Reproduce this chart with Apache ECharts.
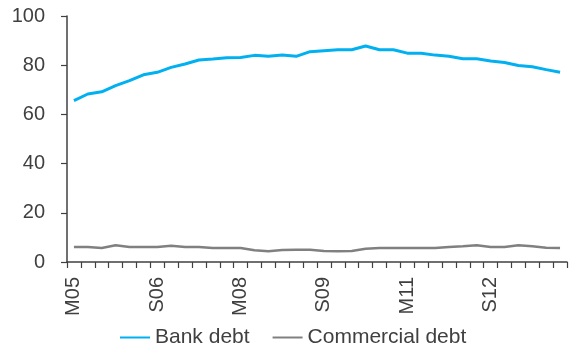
<!DOCTYPE html>
<html>
<head>
<meta charset="utf-8">
<script src="https://cdn.jsdelivr.net/npm/echarts@6/dist/echarts.min.js"></script>
<style>html,body{margin:0;padding:0;background:#fff;}#c{width:572px;height:350px;}</style>
</head>
<body>
<div id="c"></div>
<script>
// Quarterly categories, Mar 2005 .. Dec 2013
const categories = [
  'M05','J05','S05','D05','M06','J06','S06','D06',
  'M07','J07','S07','D07','M08','J08','S08','D08',
  'M09','J09','S09','D09','M10','J10','S10','D10',
  'M11','J11','S11','D11','M12','J12','S12','D12',
  'M13','J13','S13','D13'
];
const shownLabels = ['M05','S06','M08','S09','M11','S12'];
const bankDebt = [
  65.6, 68.3, 69.2, 71.7, 73.7, 76.1, 77.1, 79.1, 80.5, 82.1, 82.5, 83.0,
  83.1, 84.0, 83.6, 84.1, 83.6, 85.5, 85.9, 86.3, 86.3, 87.8, 86.3, 86.3,
  84.9, 84.9, 84.1, 83.6, 82.6, 82.6, 81.7, 81.1, 79.9, 79.4, 78.2, 77.1
];
const commercialDebt = [
  6.1, 6.1, 5.7, 6.8, 6.1, 6.1, 6.1, 6.6, 6.1, 6.1, 5.7, 5.7,
  5.7, 4.8, 4.4, 4.9, 5.0, 5.0, 4.5, 4.4, 4.5, 5.4, 5.7, 5.7,
  5.7, 5.7, 5.7, 6.1, 6.4, 6.8, 6.1, 6.1, 6.8, 6.4, 5.8, 5.7
];
const yTicks = { min: 0, max: 100, interval: 20 };

const chart = echarts.init(document.getElementById('c'), null, { renderer: 'canvas' });
const txt = '#404040';
const ax = '#404040';
chart.setOption({
  animation: false,
  textStyle: { fontFamily: 'Liberation Sans, Arial, sans-serif' },
  grid: { left: 67, right: 5, top: 16, bottom: 88, containLabel: false },
  legend: {
    left: 115, top: 322,
    itemWidth: 30, itemHeight: 2, itemGap: 23,
    icon: 'rect',
    textStyle: { fontSize: 21, color: txt, fontFamily: 'Liberation Sans, Arial, sans-serif' },
    data: ['Bank debt', 'Commercial debt']
  },
  xAxis: {
    type: 'category',
    data: categories,
    boundaryGap: true,
    axisLine: { lineStyle: { color: ax, width: 1.5 } },
    axisTick: { show: true, interval: 0, length: 6, lineStyle: { color: ax, width: 1.2 } },
    axisLabel: {
      interval: 0, rotate: 90, margin: 15, fontSize: 20, color: txt,
      formatter: v => shownLabels.includes(v) ? v : ''
    },
    splitLine: { show: false }
  },
  yAxis: {
    type: 'value',
    min: yTicks.min, max: yTicks.max, interval: yTicks.interval,
    axisLine: { show: true, lineStyle: { color: ax, width: 1.5 } },
    axisTick: { show: true, length: 6, lineStyle: { color: ax, width: 1.2 } },
    axisLabel: { fontSize: 20, color: txt, margin: 22 },
    splitLine: { show: false }
  },
  series: [
    {
      name: 'Bank debt', type: 'line', data: bankDebt, symbol: 'none',
      lineStyle: { color: '#00B0F0', width: 3 }, itemStyle: { color: '#00B0F0' }
    },
    {
      name: 'Commercial debt', type: 'line', data: commercialDebt, symbol: 'none',
      lineStyle: { color: '#808080', width: 2.5 }, itemStyle: { color: '#808080' }
    }
  ]
});
</script>
</body>
</html>
